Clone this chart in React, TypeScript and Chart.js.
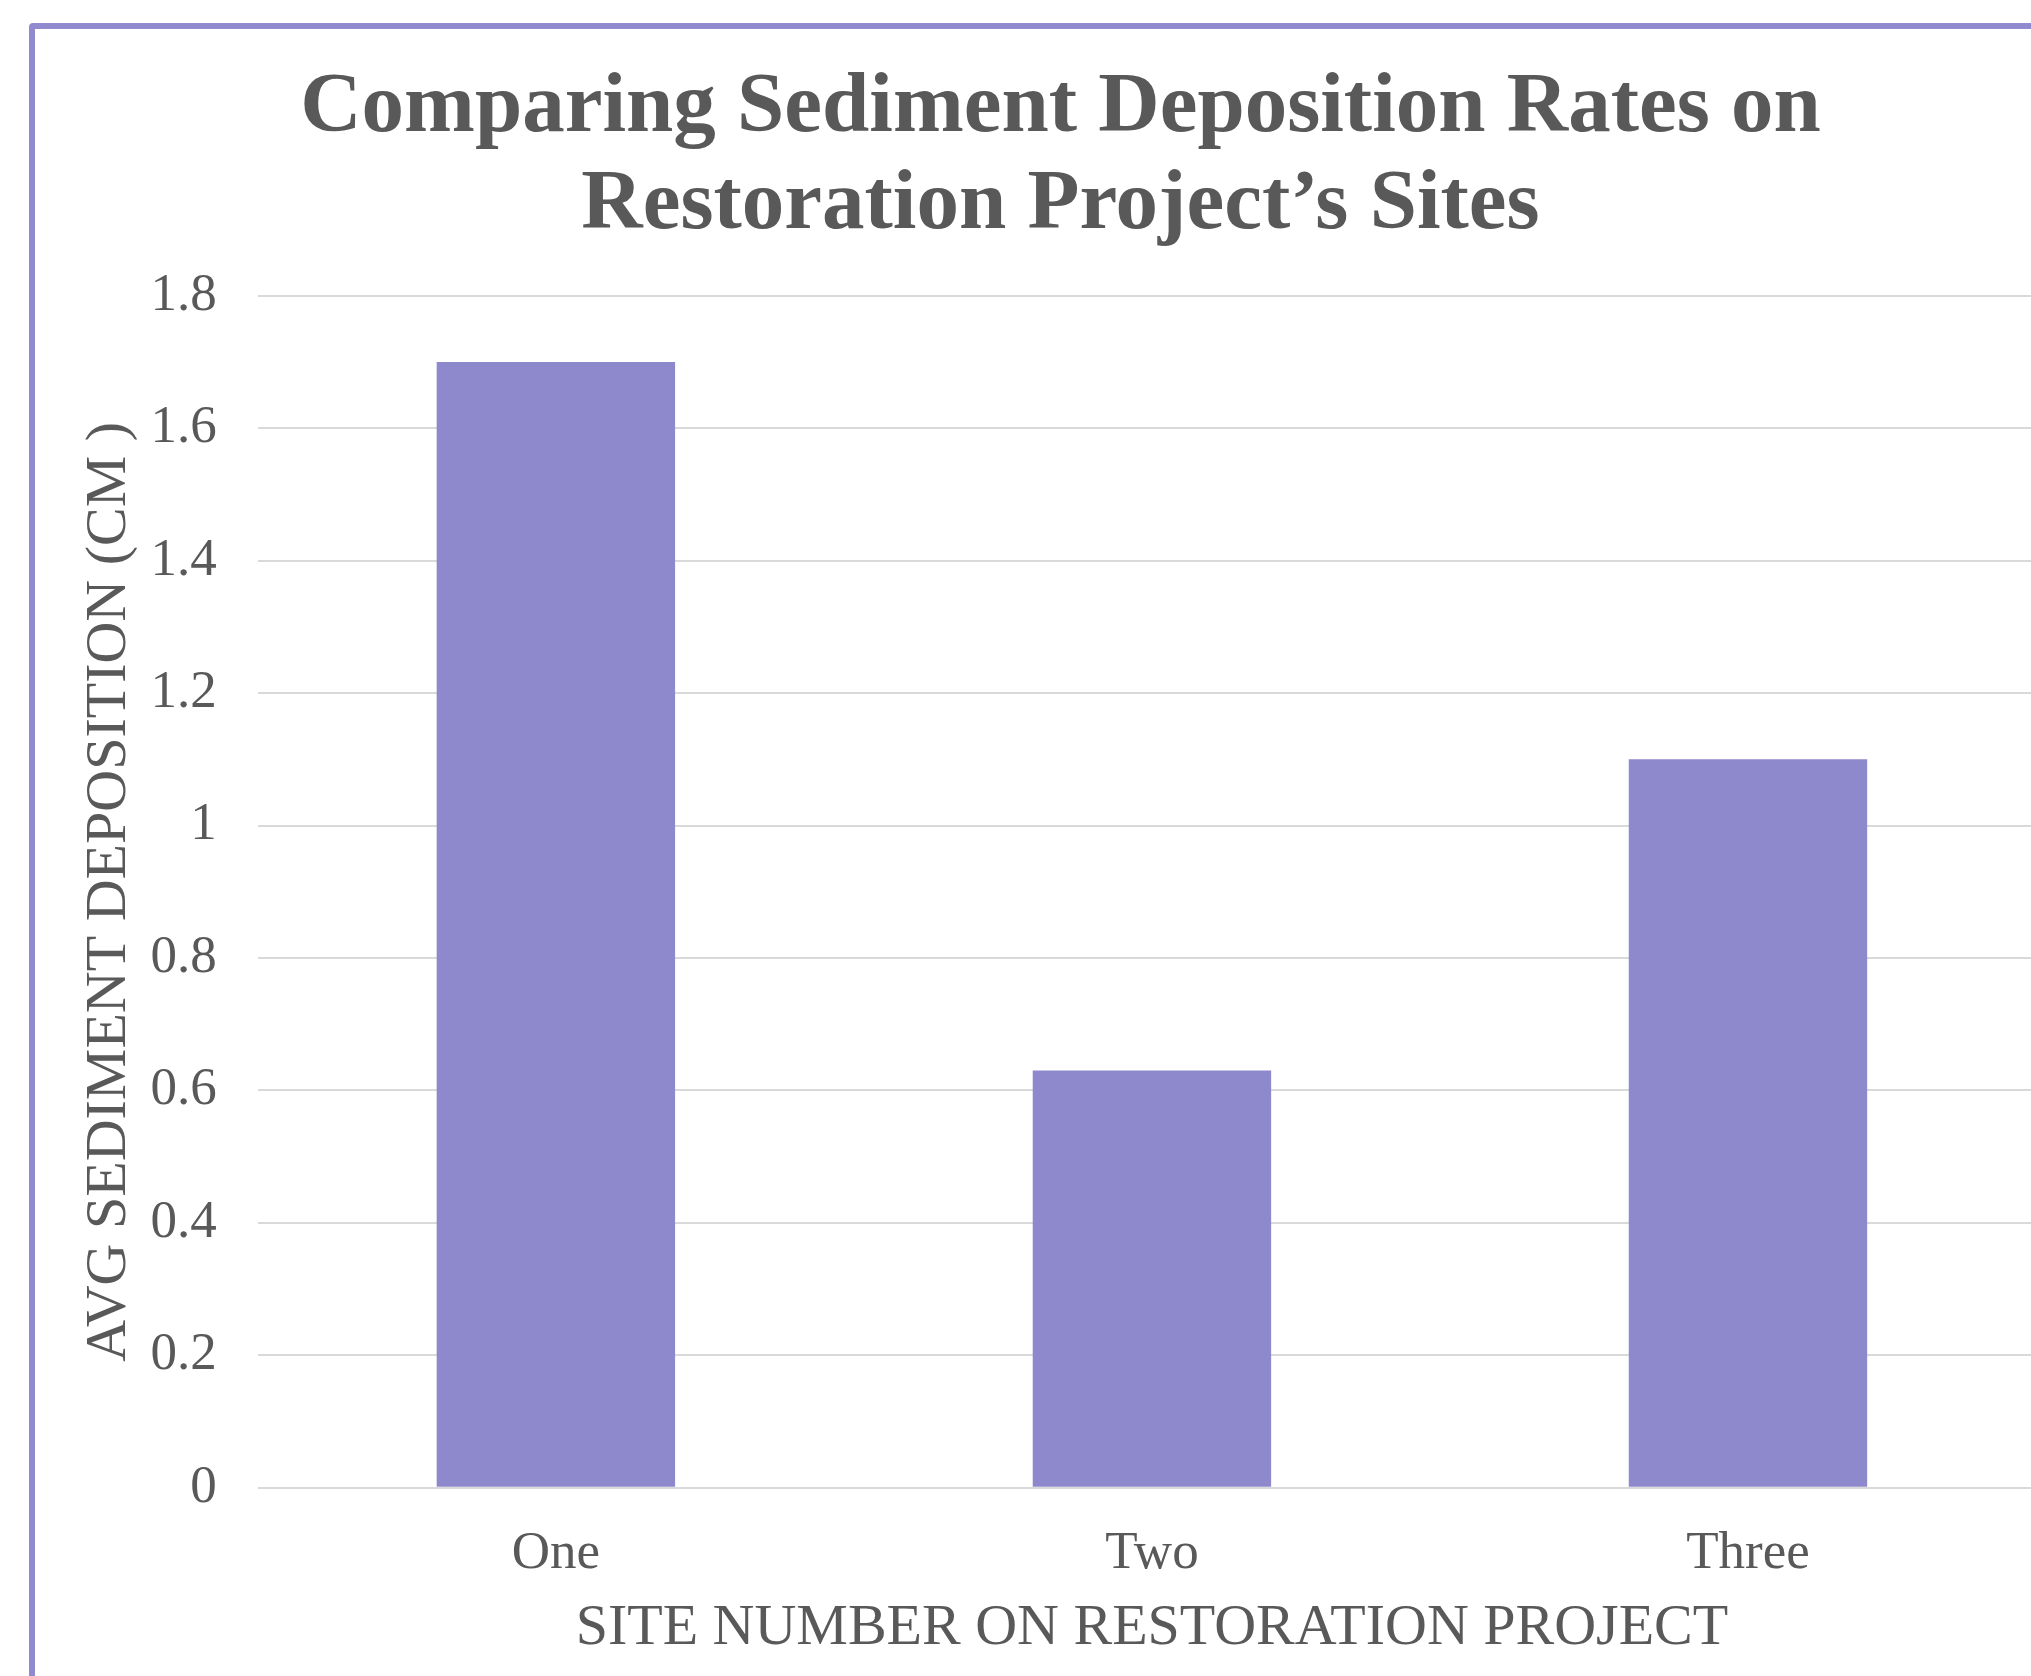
import React, { useEffect, useRef } from "react";
import { Chart, registerables } from "chart.js";

Chart.register(...registerables);

const titleLines = ["Comparing Sediment Deposition Rates on", "Restoration Project\u2019s Sites"];
const categories = ["One", "Two", "Three"];
const depositionValues = [1.7, 0.63, 1.1];
const yTickMin = 0;
const yTickMax = 1.8;
const yTickStep = 0.2;
const xAxisTitle = "SITE NUMBER ON RESTORATION PROJECT";
const yAxisTitle = "AVG SEDIMENT DEPOSITION (CM )";

const TEXT = "#595959";
const BAR = "#8e89cd";
const GRID = "#d9d9d9";
const FONT = "'Liberation Serif', 'Times New Roman', serif";

export default function App() {
  const ref = useRef<HTMLCanvasElement | null>(null);

  useEffect(() => {
    if (!ref.current) return;
    const chart = new Chart(ref.current, {
      type: "bar",
      data: {
        labels: categories,
        datasets: [
          {
            label: "Avg sediment deposition",
            data: depositionValues,
            backgroundColor: BAR,
            borderWidth: 0,
            categoryPercentage: 1,
            barPercentage: 0.4,
          },
        ],
      },
      options: {
        animation: false,
        responsive: false,
        maintainAspectRatio: false,
        devicePixelRatio: 1,
        layout: { padding: { left: 40, right: 33, top: 0, bottom: 45 } },
        plugins: {
          legend: { display: false },
          tooltip: { enabled: false },
          title: {
            display: true,
            text: titleLines,
            color: TEXT,
            font: { family: FONT, size: 85, weight: "bold", lineHeight: 1.14 },
            padding: { top: 32, bottom: 41 },
          },
        },
        scales: {
          x: {
            grid: { display: false, drawTicks: false },
            border: { display: false },
            ticks: {
              color: TEXT,
              font: { family: FONT, size: 53 },
              padding: 34,
            },
            title: {
              display: true,
              text: xAxisTitle,
              color: TEXT,
              font: { family: FONT, size: 58 },
              padding: { top: -25, bottom: 0 },
            },
          },
          y: {
            min: yTickMin,
            max: yTickMax,
            grid: { color: GRID, lineWidth: 2, drawTicks: false },
            border: { display: false },
            ticks: {
              stepSize: yTickStep,
              color: TEXT,
              font: { family: FONT, size: 53 },
              padding: 41,
              callback: (v: any) => String(Math.round(Number(v) * 10) / 10),
            },
            title: {
              display: true,
              text: yAxisTitle,
              color: TEXT,
              font: { family: FONT, size: 58 },
              padding: { top: 0, bottom: -35 },
            },
          },
        },
      },
    });
    return () => chart.destroy();
  }, []);

  return (
    <div
      style={{
        position: "absolute",
        left: 0,
        top: 0,
        width: 2031,
        height: 1676,
        overflow: "hidden",
        background: "#ffffff",
      }}
    >
      <div
        style={{
          position: "absolute",
          left: 29,
          top: 23,
          border: "6px solid #8f8bce",
          borderRadius: 4,
          background: "#ffffff",
          width: 2044,
          height: 1680,
        }}
      >
        <canvas
          ref={ref}
          width={2044}
          height={1680}
          style={{ display: "block", width: 2044, height: 1680 }}
        />
      </div>
    </div>
  );
}
